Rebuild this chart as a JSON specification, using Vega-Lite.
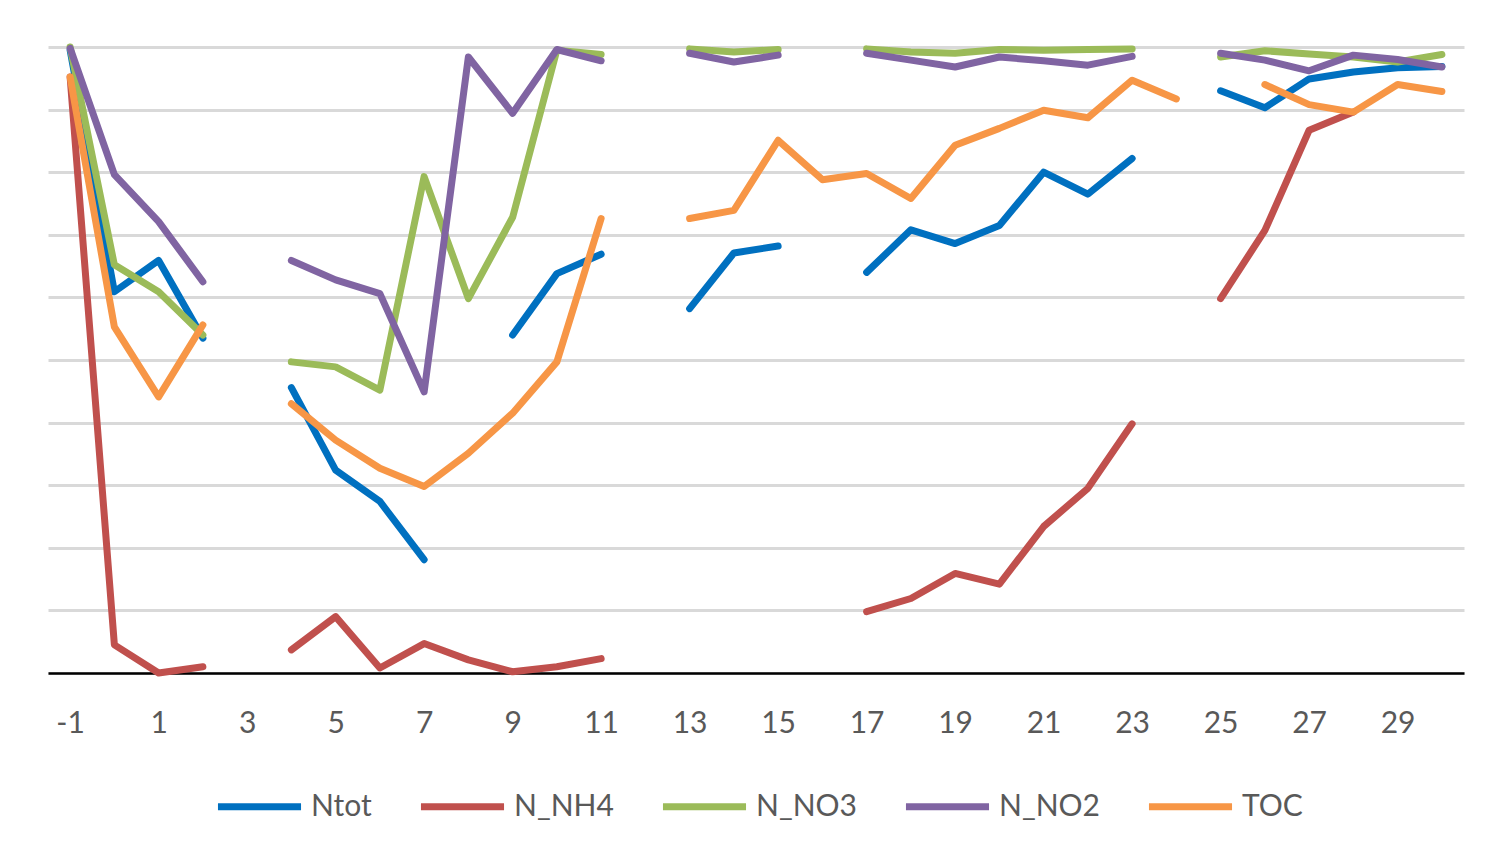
{
  "$schema": "https://vega.github.io/schema/vega-lite/v6.json",
  "width": 1416,
  "height": 626,
  "autosize": {"type": "none"},
  "padding": {"left": 48, "top": 47, "right": 48, "bottom": 195},
  "background": "white",
  "config": {"view": {"stroke": null}, "font": "Lato"},
  "data": {
    "values": [
      {"day": -1, "Ntot": 9.95, "N_NH4": 9.52, "N_NO3": 10.0, "N_NO2": 9.98, "TOC": 9.52},
      {"day": 0, "Ntot": 6.09, "N_NH4": 0.45, "N_NO3": 6.52, "N_NO2": 7.96, "TOC": 5.53},
      {"day": 1, "Ntot": 6.59, "N_NH4": 0.0, "N_NO3": 6.09, "N_NO2": 7.21, "TOC": 4.41},
      {"day": 2, "Ntot": 5.35, "N_NH4": 0.10, "N_NO3": 5.40, "N_NO2": 6.25, "TOC": 5.56},
      {"day": 3, "Ntot": null, "N_NH4": null, "N_NO3": null, "N_NO2": null, "TOC": null},
      {"day": 4, "Ntot": 4.56, "N_NH4": 0.37, "N_NO3": 4.97, "N_NO2": 6.59, "TOC": 4.30},
      {"day": 5, "Ntot": 3.24, "N_NH4": 0.90, "N_NO3": 4.89, "N_NO2": 6.28, "TOC": 3.72},
      {"day": 6, "Ntot": 2.74, "N_NH4": 0.08, "N_NO3": 4.52, "N_NO2": 6.06, "TOC": 3.27},
      {"day": 7, "Ntot": 1.81, "N_NH4": 0.47, "N_NO3": 7.93, "N_NO2": 4.49, "TOC": 2.98},
      {"day": 8, "Ntot": null, "N_NH4": 0.21, "N_NO3": 5.98, "N_NO2": 9.84, "TOC": 3.51},
      {"day": 9, "Ntot": 5.40, "N_NH4": 0.02, "N_NO3": 7.28, "N_NO2": 8.94, "TOC": 4.15},
      {"day": 10, "Ntot": 6.38, "N_NH4": 0.10, "N_NO3": 9.95, "N_NO2": 9.96, "TOC": 4.97},
      {"day": 11, "Ntot": 6.69, "N_NH4": 0.23, "N_NO3": 9.88, "N_NO2": 9.78, "TOC": 7.26},
      {"day": 12, "Ntot": null, "N_NH4": null, "N_NO3": null, "N_NO2": null, "TOC": null},
      {"day": 13, "Ntot": 5.82, "N_NH4": null, "N_NO3": 9.97, "N_NO2": 9.90, "TOC": 7.26},
      {"day": 14, "Ntot": 6.71, "N_NH4": null, "N_NO3": 9.92, "N_NO2": 9.76, "TOC": 7.39},
      {"day": 15, "Ntot": 6.82, "N_NH4": null, "N_NO3": 9.96, "N_NO2": 9.87, "TOC": 8.51},
      {"day": 16, "Ntot": null, "N_NH4": null, "N_NO3": null, "N_NO2": null, "TOC": 7.88},
      {"day": 17, "Ntot": 6.40, "N_NH4": 0.98, "N_NO3": 9.97, "N_NO2": 9.90, "TOC": 7.98},
      {"day": 18, "Ntot": 7.08, "N_NH4": 1.19, "N_NO3": 9.92, "N_NO2": 9.79, "TOC": 7.58},
      {"day": 19, "Ntot": 6.86, "N_NH4": 1.59, "N_NO3": 9.90, "N_NO2": 9.68, "TOC": 8.43},
      {"day": 20, "Ntot": 7.15, "N_NH4": 1.42, "N_NO3": 9.96, "N_NO2": 9.84, "TOC": 8.70},
      {"day": 21, "Ntot": 8.00, "N_NH4": 2.34, "N_NO3": 9.95, "N_NO2": 9.78, "TOC": 8.99},
      {"day": 22, "Ntot": 7.65, "N_NH4": 2.95, "N_NO3": 9.96, "N_NO2": 9.71, "TOC": 8.87},
      {"day": 23, "Ntot": 8.22, "N_NH4": 3.98, "N_NO3": 9.97, "N_NO2": 9.85, "TOC": 9.47},
      {"day": 24, "Ntot": null, "N_NH4": null, "N_NO3": null, "N_NO2": null, "TOC": 9.17},
      {"day": 25, "Ntot": 9.30, "N_NH4": 5.98, "N_NO3": 9.84, "N_NO2": 9.90, "TOC": null},
      {"day": 26, "Ntot": 9.03, "N_NH4": 7.07, "N_NO3": 9.94, "N_NO2": 9.79, "TOC": 9.40},
      {"day": 27, "Ntot": 9.49, "N_NH4": 8.67, "N_NO3": 9.89, "N_NO2": 9.62, "TOC": 9.08},
      {"day": 28, "Ntot": 9.60, "N_NH4": 8.96, "N_NO3": 9.84, "N_NO2": 9.87, "TOC": 8.96},
      {"day": 29, "Ntot": 9.67, "N_NH4": null, "N_NO3": 9.76, "N_NO2": 9.80, "TOC": 9.40},
      {"day": 30, "Ntot": 9.69, "N_NH4": null, "N_NO3": 9.88, "N_NO2": 9.68, "TOC": 9.29}
    ]
  },
  "transform": [
    {"fold": ["Ntot", "N_NH4", "N_NO3", "N_NO2", "TOC"], "as": ["series", "value"]}
  ],
  "mark": {
    "type": "line",
    "strokeWidth": 7,
    "strokeCap": "round",
    "strokeJoin": "round",
    "invalid": "break-paths-show-domains"
  },
  "encoding": {
    "x": {
      "field": "day",
      "type": "ordinal",
      "scale": {"type": "point", "padding": 0.5},
      "axis": {
        "title": null,
        "values": [-1, 1, 3, 5, 7, 9, 11, 13, 15, 17, 19, 21, 23, 25, 27, 29],
        "labelAngle": 0,
        "ticks": false,
        "grid": false,
        "domainColor": "#000000",
        "domainWidth": 2.5,
        "labelFontSize": 30,
        "labelColor": "#595959",
        "labelPadding": 35
      }
    },
    "y": {
      "field": "value",
      "type": "quantitative",
      "scale": {"domain": [0, 10], "nice": false},
      "axis": {
        "title": null,
        "labels": false,
        "ticks": false,
        "domain": false,
        "values": [0, 1, 2, 3, 4, 5, 6, 7, 8, 9, 10],
        "gridColor": "#d9d9d9",
        "gridWidth": 3
      }
    },
    "color": {
      "field": "series",
      "type": "nominal",
      "scale": {
        "domain": ["Ntot", "N_NH4", "N_NO3", "N_NO2", "TOC"],
        "range": ["#0070C0", "#C0504D", "#9BBB59", "#8064A2", "#F79646"]
      },
      "legend": {
        "title": null,
        "orient": "none",
        "legendX": 166,
        "legendY": 714,
        "direction": "horizontal",
        "symbolType": "stroke",
        "symbolSize": 6900,
        "symbolStrokeWidth": 7,
        "labelFontSize": 30,
        "labelColor": "#595959",
        "labelOffset": 6,
        "columnPadding": 34
      }
    }
  }
}
